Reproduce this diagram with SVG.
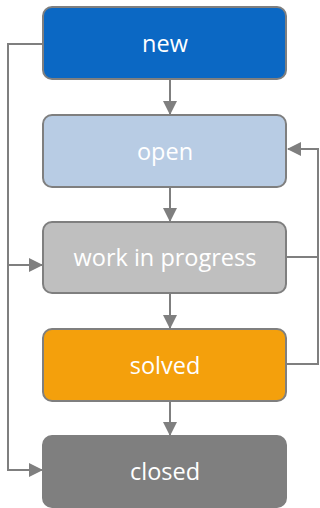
<svg xmlns="http://www.w3.org/2000/svg" width="320" height="508" viewBox="0 0 320 508">
<defs>
<marker id="ah" markerWidth="14" markerHeight="14" refX="13" refY="7" orient="auto" markerUnits="userSpaceOnUse">
<path d="M0,0 L14,7 L0,14 Z" fill="#7f7f7f"/>
</marker>
<style>
.box{stroke:#7f7f7f;stroke-width:2}
.lbl{font-family:"Open Sans","Noto Sans","DejaVu Sans",sans-serif;font-size:23.5px;fill:#ffffff;text-anchor:middle}
.cn{fill:none;stroke:#7f7f7f;stroke-width:2}
</style>
</defs>
<rect width="320" height="508" fill="#ffffff"/>
<g id="connectors">
<path class="cn" d="M170,79 V114" marker-end="url(#ah)"/>
<path class="cn" d="M170,187 V221" marker-end="url(#ah)"/>
<path class="cn" d="M170,293 V328" marker-end="url(#ah)"/>
<path class="cn" d="M170,401 V435" marker-end="url(#ah)"/>
<path class="cn" d="M43,44 H8 V470 H42" marker-end="url(#ah)"/>
<path class="cn" d="M8,265 H42" marker-end="url(#ah)"/>
<path class="cn" d="M287,257 H318 V149 H288" marker-end="url(#ah)"/>
<path class="cn" d="M287,364 H318 V257"/>
</g>
<g id="new">
<rect class="box" x="43" y="7" width="243" height="72" rx="9" fill="#0b68c4"/>
<text class="lbl" x="165" y="52" fill="#e8f6fb">new</text>
</g>
<g id="open">
<rect class="box" x="43" y="115" width="243" height="72" rx="9" fill="#b8cce4"/>
<text class="lbl" x="165" y="160">open</text>
</g>
<g id="work-in-progress">
<rect class="box" x="43" y="222" width="243" height="71" rx="9" fill="#bfbfbf"/>
<text class="lbl" x="165" y="266">work in progress</text>
</g>
<g id="solved">
<rect class="box" x="43" y="329" width="243" height="72" rx="9" fill="#f4a00c"/>
<text class="lbl" x="165" y="374">solved</text>
</g>
<g id="closed">
<rect class="box" x="43" y="436" width="243" height="71" rx="9" fill="#7f7f7f"/>
<text class="lbl" x="165" y="480">closed</text>
</g>
</svg>
